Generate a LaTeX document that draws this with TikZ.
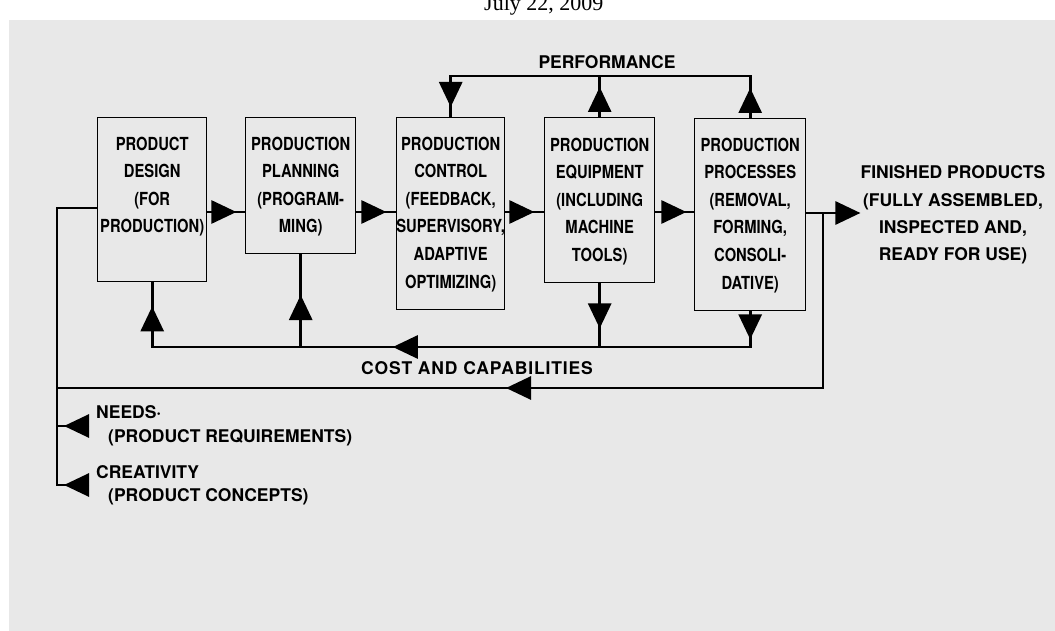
\documentclass[tikz,border=0pt]{standalone}
\usepackage{fontspec}
\setmainfont{TeX Gyre Heros}
\newfontfamily\boxfont{TeX Gyre Heros}[FakeStretch=0.82]
\newfontfamily\datefont{Liberation Serif}
\usetikzlibrary{arrows.meta,decorations.markings}
\definecolor{bg}{RGB}{232,232,232}
\tikzset{
  Tri/.tip={Triangle[length=25pt,width=23pt]},
  conn/.style={line width=2.8pt},
  box/.style={draw, line width=1.4pt, inner sep=0pt},
  boxtext/.style={font=\boxfont\bfseries\fontsize{18}{27.6}\selectfont, align=center, inner sep=0pt, anchor=north},
  lbl/.style={font=\bfseries\fontsize{17.5}{27.3}\selectfont, inner sep=0pt},
  tipat/.style={postaction={decorate}, decoration={markings, mark=at position #1 with {\arrow{Tri}}}},
  twotips/.style 2 args={postaction={decorate}, decoration={markings,
      mark=at position #1 with {\arrow{Tri}}, mark=at position #2 with {\arrow{Tri}}}},
  threetips/.style n args={3}{postaction={decorate}, decoration={markings,
      mark=at position #1 with {\arrow{Tri}}, mark=at position #2 with {\arrow{Tri}},
      mark=at position #3 with {\arrow{Tri}}}},
}
\begin{document}
\begin{tikzpicture}[x=1pt,y=-1pt]
\useasboundingbox (0,0) rectangle (1055,631);
\fill[white] (0,0) rectangle (1055,631);
\fill[bg] (9,20) rectangle (1055,631);
\node[font=\datefont\fontsize{22}{22}\selectfont, anchor=base west, inner sep=0pt] (date) at (484,11) {July 22, 2009};

% boxes
\node[box, anchor=north west, minimum width=109pt, minimum height=164pt] (B1) at (97,117) {};
\node[box, anchor=north west, minimum width=110pt, minimum height=136pt] (B2) at (245,117) {};
\node[box, anchor=north west, minimum width=108pt, minimum height=192pt] (B3) at (396,117) {};
\node[box, anchor=north west, minimum width=110pt, minimum height=165pt] (B4) at (544,117) {};
\node[box, anchor=north west, minimum width=111pt, minimum height=192pt] (B5) at (694,118) {};

\node[boxtext] (T1) at ([yshift=-19.5pt]B1.north) {PRODUCT\\DESIGN\\(FOR\\PRODUCTION)};
\node[boxtext] (T2) at ([yshift=-19.5pt]B2.north) {PRODUCTION\\PLANNING\\(PROGRAM-\\MING)};
\node[boxtext] (T3) at ([yshift=-19.5pt]B3.north) {PRODUCTION\\CONTROL\\(FEEDBACK,\\SUPERVISORY,\\ADAPTIVE\hspace*{30pt}\\OPTIMIZING)};
\node[boxtext] (T4) at ([yshift=-20.5pt]B4.north) {PRODUCTION\\EQUIPMENT\\(INCLUDING\\MACHINE\\TOOLS)};
\node[boxtext] (T5) at ([yshift=-19.5pt]B5.north) {PRODUCTION\\PROCESSES\\(REMOVAL,\\FORMING,\\CONSOLI-\\DATIVE)};

% labels
\node[lbl] (perfl) at (607,62) {PERFORMANCE};
\node[lbl, font=\bfseries\fontsize{17.5}{20}\selectfont\addfontfeature{LetterSpace=5}] (costl) at (477,368) {COST AND CAPABILITIES};
\node[lbl, align=center] (fin) at (953,215) {FINISHED PRODUCTS\\(FULLY ASSEMBLED,\\INSPECTED AND,\\READY FOR USE)};
\node[lbl, font=\bfseries\fontsize{17.5}{24}\selectfont, align=left, anchor=west, inner xsep=7pt] (needs) at (89,426) {NEEDS\textperiodcentered\\\hspace*{12pt}(PRODUCT REQUIREMENTS)};
\node[lbl, font=\bfseries\fontsize{17.5}{23}\selectfont, align=left, anchor=west, inner xsep=7pt] (crea) at (89,485) {CREATIVITY\\\hspace*{12pt}(PRODUCT CONCEPTS)};

% helper coordinates
\coordinate (row) at (0,212);
\coordinate (perf) at (0,76);
\coordinate (cost) at (0,347);
\coordinate (bot) at (0,388);
\coordinate (L0) at (57,208);
\coordinate (J) at (823,213);

% forward chain
\draw[conn, tipat=29pt] (B1.east |- row) -- (B2.west |- row);
\draw[conn, tipat=30pt] (B2.east |- row) -- (B3.west |- row);
\draw[conn, tipat=29pt] (B3.east |- row) -- (B4.west |- row);
\draw[conn, tipat=31pt] (B4.east |- row) -- (B5.west |- row);
\draw[conn, -{Tri}] (B5.east |- J) -- (fin.west |- J);

% performance loop
\draw[conn, twotips={30pt}{-10pt}] (B5.north) -- (B5.north |- perf) -- (B3.north |- perf) -- (B3.north);
\draw[conn, tipat=30pt] (B4.north) -- (B4.north |- perf);

% cost and capabilities loop
\draw[conn, threetips={28pt}{393pt}{-24pt}] (B5.south) -- (B5.south |- cost) -- (B1.south |- cost) -- (B1.south);
\draw[conn, tipat=45pt] (B4.south) -- (B4.south |- cost);
\draw[conn, tipat=52pt] (B2.south |- cost) -- (B2.south);

% outer loop
\draw[conn, tipat=492pt] (J) -- (J |- bot) -- (L0 |- bot);
\draw[conn, tipat=25pt] (crea.west) -- (crea.west -| L0) -- (L0) -- (B1.west |- L0);
\draw[conn, tipat=25pt] (needs.west) -- (needs.west -| L0);
\end{tikzpicture}
\end{document}
